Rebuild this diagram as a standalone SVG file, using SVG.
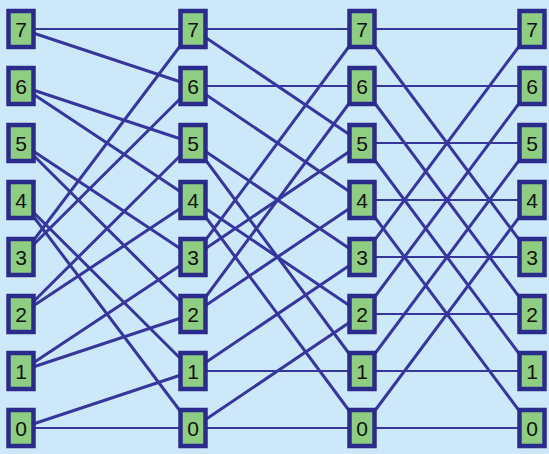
<svg xmlns="http://www.w3.org/2000/svg" width="549" height="454" viewBox="0 0 549 454">
<style>
.bg{fill:#cde8f9}
.e{stroke:#36369c;stroke-width:3;fill:none;stroke-linecap:round}
.e .h{stroke-width:2.2}
.n rect{fill:#8fcd82;stroke:#2b2b8c;stroke-width:4.5}
.n text{font-family:"Liberation Sans",Arial,sans-serif;font-size:21px;fill:#111;text-anchor:middle}
</style>
<rect class="bg" x="0" y="0" width="549" height="454"/>
<g id="connectors" class="e">
<line class="h" x1="21" y1="29" x2="193" y2="29"/>
<line x1="21" y1="29" x2="193" y2="86"/>
<line x1="21" y1="86" x2="193" y2="143"/>
<line x1="21" y1="86" x2="193" y2="200"/>
<line x1="21" y1="143" x2="193" y2="257"/>
<line x1="21" y1="143" x2="193" y2="314"/>
<line x1="21" y1="200" x2="193" y2="371"/>
<line x1="21" y1="200" x2="193" y2="428"/>
<line x1="21" y1="257" x2="193" y2="29"/>
<line x1="21" y1="257" x2="193" y2="86"/>
<line x1="21" y1="314" x2="193" y2="143"/>
<line x1="21" y1="314" x2="193" y2="200"/>
<line x1="21" y1="371" x2="193" y2="257"/>
<line x1="21" y1="371" x2="193" y2="314"/>
<line x1="21" y1="428" x2="193" y2="371"/>
<line class="h" x1="21" y1="428" x2="193" y2="428"/>
<line class="h" x1="193" y1="29" x2="362" y2="29"/>
<line x1="193" y1="29" x2="362" y2="143"/>
<line class="h" x1="193" y1="86" x2="362" y2="86"/>
<line x1="193" y1="86" x2="362" y2="200"/>
<line x1="193" y1="143" x2="362" y2="257"/>
<line x1="193" y1="143" x2="362" y2="371"/>
<line x1="193" y1="200" x2="362" y2="314"/>
<line x1="193" y1="200" x2="362" y2="428"/>
<line x1="193" y1="257" x2="362" y2="29"/>
<line x1="193" y1="257" x2="362" y2="143"/>
<line x1="193" y1="314" x2="362" y2="86"/>
<line x1="193" y1="314" x2="362" y2="200"/>
<line x1="193" y1="371" x2="362" y2="257"/>
<line class="h" x1="193" y1="371" x2="362" y2="371"/>
<line x1="193" y1="428" x2="362" y2="314"/>
<line class="h" x1="193" y1="428" x2="362" y2="428"/>
<line class="h" x1="362" y1="29" x2="532" y2="29"/>
<line x1="362" y1="29" x2="532" y2="257"/>
<line class="h" x1="362" y1="86" x2="532" y2="86"/>
<line x1="362" y1="86" x2="532" y2="314"/>
<line class="h" x1="362" y1="143" x2="532" y2="143"/>
<line x1="362" y1="143" x2="532" y2="371"/>
<line class="h" x1="362" y1="200" x2="532" y2="200"/>
<line x1="362" y1="200" x2="532" y2="428"/>
<line class="h" x1="362" y1="257" x2="532" y2="257"/>
<line x1="362" y1="257" x2="532" y2="29"/>
<line class="h" x1="362" y1="314" x2="532" y2="314"/>
<line x1="362" y1="314" x2="532" y2="86"/>
<line class="h" x1="362" y1="371" x2="532" y2="371"/>
<line x1="362" y1="371" x2="532" y2="143"/>
<line class="h" x1="362" y1="428" x2="532" y2="428"/>
<line x1="362" y1="428" x2="532" y2="200"/>
</g>
<g id="c1n7" class="n" transform="translate(21,29)"><rect x="-12.5" y="-18" width="25" height="36"/><text y="7.5">7</text></g>
<g id="c1n6" class="n" transform="translate(21,86)"><rect x="-12.5" y="-18" width="25" height="36"/><text y="7.5">6</text></g>
<g id="c1n5" class="n" transform="translate(21,143)"><rect x="-12.5" y="-18" width="25" height="36"/><text y="7.5">5</text></g>
<g id="c1n4" class="n" transform="translate(21,200)"><rect x="-12.5" y="-18" width="25" height="36"/><text y="7.5">4</text></g>
<g id="c1n3" class="n" transform="translate(21,257)"><rect x="-12.5" y="-18" width="25" height="36"/><text y="7.5">3</text></g>
<g id="c1n2" class="n" transform="translate(21,314)"><rect x="-12.5" y="-18" width="25" height="36"/><text y="7.5">2</text></g>
<g id="c1n1" class="n" transform="translate(21,371)"><rect x="-12.5" y="-18" width="25" height="36"/><text y="7.5">1</text></g>
<g id="c1n0" class="n" transform="translate(21,428)"><rect x="-12.5" y="-18" width="25" height="36"/><text y="7.5">0</text></g>
<g id="c2n7" class="n" transform="translate(193,29)"><rect x="-12.5" y="-18" width="25" height="36"/><text y="7.5">7</text></g>
<g id="c2n6" class="n" transform="translate(193,86)"><rect x="-12.5" y="-18" width="25" height="36"/><text y="7.5">6</text></g>
<g id="c2n5" class="n" transform="translate(193,143)"><rect x="-12.5" y="-18" width="25" height="36"/><text y="7.5">5</text></g>
<g id="c2n4" class="n" transform="translate(193,200)"><rect x="-12.5" y="-18" width="25" height="36"/><text y="7.5">4</text></g>
<g id="c2n3" class="n" transform="translate(193,257)"><rect x="-12.5" y="-18" width="25" height="36"/><text y="7.5">3</text></g>
<g id="c2n2" class="n" transform="translate(193,314)"><rect x="-12.5" y="-18" width="25" height="36"/><text y="7.5">2</text></g>
<g id="c2n1" class="n" transform="translate(193,371)"><rect x="-12.5" y="-18" width="25" height="36"/><text y="7.5">1</text></g>
<g id="c2n0" class="n" transform="translate(193,428)"><rect x="-12.5" y="-18" width="25" height="36"/><text y="7.5">0</text></g>
<g id="c3n7" class="n" transform="translate(362,29)"><rect x="-12.5" y="-18" width="25" height="36"/><text y="7.5">7</text></g>
<g id="c3n6" class="n" transform="translate(362,86)"><rect x="-12.5" y="-18" width="25" height="36"/><text y="7.5">6</text></g>
<g id="c3n5" class="n" transform="translate(362,143)"><rect x="-12.5" y="-18" width="25" height="36"/><text y="7.5">5</text></g>
<g id="c3n4" class="n" transform="translate(362,200)"><rect x="-12.5" y="-18" width="25" height="36"/><text y="7.5">4</text></g>
<g id="c3n3" class="n" transform="translate(362,257)"><rect x="-12.5" y="-18" width="25" height="36"/><text y="7.5">3</text></g>
<g id="c3n2" class="n" transform="translate(362,314)"><rect x="-12.5" y="-18" width="25" height="36"/><text y="7.5">2</text></g>
<g id="c3n1" class="n" transform="translate(362,371)"><rect x="-12.5" y="-18" width="25" height="36"/><text y="7.5">1</text></g>
<g id="c3n0" class="n" transform="translate(362,428)"><rect x="-12.5" y="-18" width="25" height="36"/><text y="7.5">0</text></g>
<g id="c4n7" class="n" transform="translate(532,29)"><rect x="-12.5" y="-18" width="25" height="36"/><text y="7.5">7</text></g>
<g id="c4n6" class="n" transform="translate(532,86)"><rect x="-12.5" y="-18" width="25" height="36"/><text y="7.5">6</text></g>
<g id="c4n5" class="n" transform="translate(532,143)"><rect x="-12.5" y="-18" width="25" height="36"/><text y="7.5">5</text></g>
<g id="c4n4" class="n" transform="translate(532,200)"><rect x="-12.5" y="-18" width="25" height="36"/><text y="7.5">4</text></g>
<g id="c4n3" class="n" transform="translate(532,257)"><rect x="-12.5" y="-18" width="25" height="36"/><text y="7.5">3</text></g>
<g id="c4n2" class="n" transform="translate(532,314)"><rect x="-12.5" y="-18" width="25" height="36"/><text y="7.5">2</text></g>
<g id="c4n1" class="n" transform="translate(532,371)"><rect x="-12.5" y="-18" width="25" height="36"/><text y="7.5">1</text></g>
<g id="c4n0" class="n" transform="translate(532,428)"><rect x="-12.5" y="-18" width="25" height="36"/><text y="7.5">0</text></g>
</svg>
